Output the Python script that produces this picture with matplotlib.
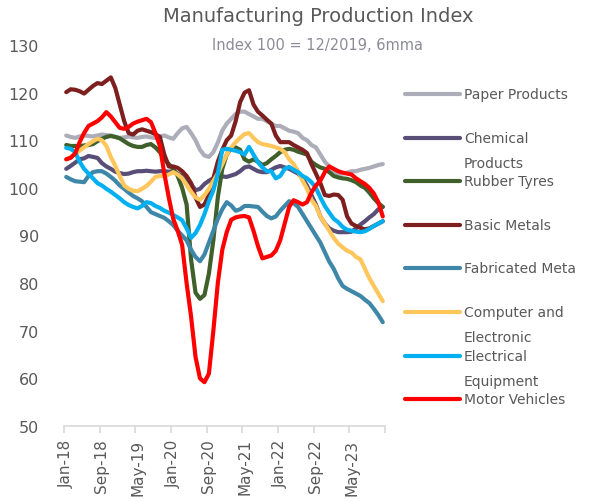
import numpy as np
import pandas as pd
import matplotlib
matplotlib.use('Agg')
import matplotlib.pyplot as plt
from matplotlib.lines import Line2D
from matplotlib.ticker import FixedLocator

plt.rcParams['font.family'] = ['DejaVu Sans']

W, H = 594, 502

months = pd.date_range('2018-01-01', periods=72, freq='MS').strftime('%b-%y').tolist()
tick_labels = ['Jan-18', 'Sep-18', 'May-19', 'Jan-20', 'Sep-20', 'May-21', 'Jan-22', 'Sep-22', 'May-23']

paper = [111, 110.7, 110.5, 110.8, 111, 110.9, 110.8, 111, 111.2, 111.1, 111, 110.7,
         110.5, 110.6, 110.8, 110.6, 110.5, 110.7, 110.8, 110.6, 110.5, 110.8, 111, 110.6,
         110.3, 111.5, 112.5, 112.8, 111.5, 110, 108, 106.8, 106.5, 107.5, 109.5, 112,
         113.5, 114.5, 115.5, 116, 116, 115.5, 115, 114.5, 114.5, 114, 113.5, 113,
         113, 112.5, 112, 111.8, 111.5, 110.5, 110, 109, 108.5, 107, 105.5, 104.5,
         103.5, 103, 103, 103.2, 103.5, 103.5, 103.8, 104, 104.2, 104.5, 104.8, 105]
chemical = [104, 104.6, 105.3, 106, 106.2, 106.7, 106.5, 106.3, 105.2, 104.5, 104, 103.4,
            103.1, 102.9, 103, 103.3, 103.5, 103.5, 103.6, 103.5, 103.4, 103.5, 103.5, 103.4,
            103.5, 103, 102.5, 101.9, 100.8, 99.5, 99.8, 100.8, 101.5, 102, 102.5, 102.4,
            102.3, 102.6, 102.9, 103.5, 104.3, 104.5, 104, 103.5, 103.3, 103.3, 103.8, 104.3,
            104.6, 104.3, 104, 103.5, 103, 102, 100.5, 98.5, 96.5, 94, 92.5, 91.5,
            91, 90.7, 90.7, 90.7, 90.8, 91.5, 92.3, 93, 93.8, 94.5, 95.5, 96]
rubber = [109, 108.8, 108.8, 108.8, 108.9, 109, 109.2, 109.8, 110.3, 110.7, 110.9, 110.7,
          110.4, 109.8, 109.2, 108.8, 108.6, 108.6, 109, 109.2, 108.5, 107.5, 106, 105,
          104, 102.5, 100, 96.5, 85, 78, 76.7, 77.5, 82, 89, 98, 104,
          107, 108.3, 108.5, 108, 106, 105.5, 106, 105.5, 104.8, 105.2, 106, 106.7,
          107.5, 108, 108.2, 108, 107.6, 107.3, 107, 105.5, 104.8, 104.3, 104, 103.3,
          102.5, 102.2, 102, 101.9, 101.6, 101.2, 100.5, 100, 99, 97.8, 96.8, 96]
basic_metals = [120.1, 120.7, 120.6, 120.3, 119.8, 120.6, 121.4, 122, 121.8, 122.5, 123.2, 121,
                117.5, 114, 111.5, 111.2, 112, 112.3, 112, 111.7, 111.3, 110.7, 107, 104.5,
                104.5, 104.2, 103.5, 102.5, 101, 98, 96, 96.5, 98.5, 102, 105.5, 108,
                110, 111, 114, 118, 120, 120.5, 117.5, 116, 115.2, 114.3, 113.5, 111,
                109.6, 109.6, 109.6, 109, 108.5, 108, 107.3, 105, 103, 101, 98.5, 98.3,
                98.6, 98.5, 97.5, 94, 92.5, 92, 91.6, 91.3, 91.5, 92, 92.5, 93]
fabricated = [102.3, 101.8, 101.4, 101.3, 101.2, 102.5, 103.3, 103.5, 103.5, 103, 102.3, 101.5,
              100.5, 99.8, 99, 98.3, 97.8, 97.2, 96, 94.9, 94.5, 94.1, 93.7, 93,
              92.2, 91, 90, 89, 87, 85.5, 84.6, 86, 88.5, 91, 93.5, 95.5,
              97, 96.3, 95.2, 95.5, 96.2, 96.2, 96.1, 96, 95, 94.1, 93.6, 94,
              95.2, 96.2, 97.2, 96.8, 96, 94.5, 93, 91.5, 90, 88.5, 86.5, 84.5,
              83, 81, 79.4, 78.8, 78.3, 77.8, 77.3, 76.5, 75.8, 74.6, 73.3, 71.8]
computer = [106, 106.5, 107.2, 107.8, 108.5, 109.2, 109.8, 110.3, 110, 108.8, 106.5, 104.6,
            102.5, 100.5, 99.8, 99.4, 99.3, 99.8, 100.4, 101.3, 102.3, 102.5, 102.5, 102.8,
            103.3, 102.8, 102, 100.6, 99.2, 98, 97.5, 98.5, 99.8, 101.5, 103, 105,
            107, 108.5, 109.6, 110.5, 111.3, 111.5, 110.5, 109.6, 109.2, 109, 108.8, 108.5,
            108.2, 107.5, 106, 105, 103.5, 101.5, 99.8, 97.5, 96.2, 94, 92.5, 91,
            89.5, 88.3, 87.5, 86.8, 86.4, 85.5, 85, 83, 81, 79.4, 77.8, 76.2]
electrical = [108.4, 108.2, 107.5, 105.5, 104, 103, 102, 101, 100.5, 99.8, 99.2, 98.5,
              97.8, 97, 96.4, 96, 95.7, 96.2, 97, 96.8, 96.2, 95.8, 95.2, 94.8,
              94.3, 93.8, 93.2, 91.5, 89.5, 90.5, 92.2, 94.5, 97.2, 99.5, 103, 108,
              108.2, 108, 107.8, 107.5, 107, 108.6, 107, 105.4, 104.3, 103.5, 103.5, 102,
              102.5, 104, 104.4, 103.8, 103.3, 102.5, 102, 101.2, 100, 98, 96.2, 94.8,
              93.5, 92.8, 91.8, 91.2, 91, 90.8, 90.7, 90.9, 91.4, 92, 92.5, 93]
motor = [106, 106.3, 107.2, 109.6, 111.5, 113, 113.5, 114, 114.8, 115.9, 115, 113.8,
         112.6, 112.4, 112.8, 113.5, 113.9, 114.2, 114.5, 113.8, 111.5, 108.8, 103, 98,
         93.5, 91, 88, 80, 73, 64.5, 60, 59.2, 61, 70, 80, 87,
         90.7, 93.3, 93.8, 94, 94.1, 93.8, 91, 87.8, 85.2, 85.5, 85.8, 86.8,
         89, 92.5, 96, 97.4, 97, 96.5, 97, 99, 100.5, 101.5, 103.3, 104.5,
         104, 103.5, 103.2, 103, 102.8, 102, 101.4, 100.8, 100, 98.8, 97, 94]

series = [
    ('Paper Products', paper, '#ADADB9'),
    ('Chemical\nProducts', chemical, '#594E78'),
    ('Rubber Tyres', rubber, '#3F5F2B'),
    ('Basic Metals', basic_metals, '#7E1F1F'),
    ('Fabricated Meta', fabricated, '#3F87A8'),
    ('Computer and\nElectronic', computer, '#FFC65C'),
    ('Electrical\nEquipment', electrical, '#00B0F0'),
    ('Motor Vehicles', motor, '#FF0000'),
]

fig = plt.figure(figsize=(W / 100, H / 100), dpi=100, facecolor='white')
ax = fig.add_axes([64 / W, 1 - 427 / H, (385 - 64) / W, (427 - 46) / H])

x = np.arange(len(months))
for name, vals, col in series:
    ax.plot(x, vals, color=col, lw=3.0, solid_capstyle='round', solid_joinstyle='round')

ax.set_xlim(-0.5, len(months) - 0.5)
ax.set_ylim(50, 130)
ax.set_yticks(np.arange(50, 131, 10))
ax.tick_params(axis='y', length=0, labelsize=11.5, labelcolor='#595959', pad=18)

tick_pos = [months.index(t) for t in tick_labels]
ax.set_xticks(tick_pos)
ax.set_xticklabels(tick_labels, rotation=90)
ax.xaxis.set_minor_locator(FixedLocator(np.arange(-0.5, len(months), 8)))
ax.tick_params(axis='x', which='major', length=0, labelsize=11, labelcolor='#595959', pad=9)
ax.tick_params(axis='x', which='minor', length=5, color='#D9D9D9', width=1.2)

for s in ['top', 'right', 'left']:
    ax.spines[s].set_visible(False)
ax.spines['bottom'].set_color('#D9D9D9')
ax.spines['bottom'].set_linewidth(1.2)

fig.text(318 / W, 1 - 17 / H, 'Manufacturing Production Index', ha='center', va='center',
         fontsize=14, color='#595959')
fig.text(318 / W, 1 - 45 / H, 'Index 100 = 12/2019, 6mma', ha='center', va='center',
         fontsize=10.5, color='#8C8C99')

# legend drawn by hand so wrapped labels hang below the marker like the original
for i, (name, vals, col) in enumerate(series):
    yy = 1 - (95 + 43.6 * i) / H
    fig.add_artist(Line2D([405 / W, 460 / W], [yy, yy], color=col, lw=3.0,
                          solid_capstyle='round', transform=fig.transFigure))
    fig.text(464 / W, yy + 7 / H, name, ha='left', va='top', fontsize=10,
             color='#595959', linespacing=2.0)

fig.savefig('out.png', dpi=100, facecolor='white')
